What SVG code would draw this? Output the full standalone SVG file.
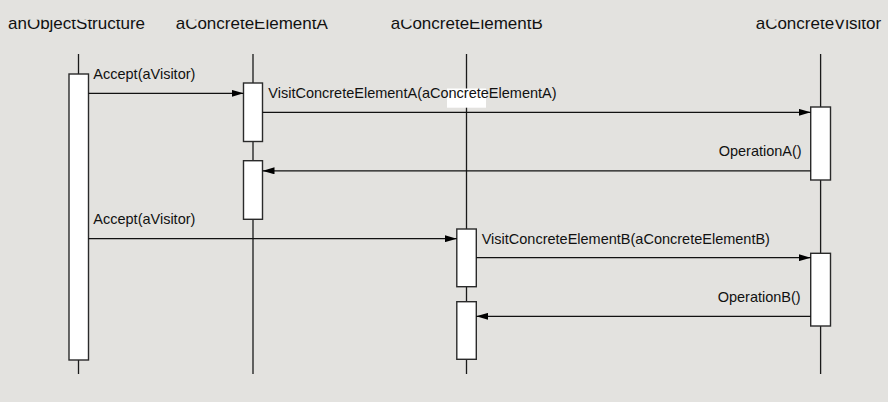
<svg xmlns="http://www.w3.org/2000/svg" width="888" height="402" viewBox="0 0 888 402">
<style>
.hdr{font-family:"Liberation Sans",Arial,sans-serif;font-size:17px;fill:#111}
.lbl{font-family:"Liberation Sans",Arial,sans-serif;font-size:14.5px;fill:#111}
.life{stroke:#1a1a1a;stroke-width:1.3;fill:none}
.act{fill:#fff;stroke:#2a2a2a;stroke-width:1.4}
.msg{stroke:#111;stroke-width:1.3;fill:none;marker-end:url(#ah)}
</style>
<defs>
<marker id="ah" viewBox="0 0 12 7" refX="12" refY="3.5" markerWidth="12" markerHeight="7" markerUnits="userSpaceOnUse" orient="auto">
<path d="M0,0 L12,3.5 L0,7 Z" fill="#000"/>
</marker>
<clipPath id="hclip"><rect x="0" y="19.8" width="888" height="400"/></clipPath>
</defs>
<rect x="0" y="0" width="888" height="402" fill="#e3e2df"/>
<g id="objectStructure">
<text class="hdr" x="8" y="28.6" clip-path="url(#hclip)">anObjectStructure</text>
<line class="life" x1="78.5" y1="54" x2="78.5" y2="374"/>
<rect class="act" x="69" y="74" width="19.5" height="286"/>
</g>
<g id="elementA">
<text class="hdr" x="175.7" y="28.6" clip-path="url(#hclip)">aConcreteElementA</text>
<line class="life" x1="253" y1="54" x2="253" y2="374"/>
<rect class="act" x="243.5" y="83" width="19" height="58.5"/>
<rect class="act" x="243.5" y="160.7" width="19" height="58.6"/>
</g>
<g id="elementB">
<text class="hdr" x="390.7" y="28.6" clip-path="url(#hclip)">aConcreteElementB</text>
<line class="life" x1="466.5" y1="54" x2="466.5" y2="374"/>
<rect class="act" x="456.8" y="229" width="19.5" height="57.7"/>
<rect class="act" x="456.8" y="301.7" width="19.5" height="57.6"/>
</g>
<g id="visitor">
<text class="hdr" x="755.7" y="28.6" clip-path="url(#hclip)">aConcreteVisitor</text>
<line class="life" x1="820.6" y1="54" x2="820.6" y2="374"/>
<rect class="act" x="810.7" y="107" width="19.8" height="73"/>
<rect class="act" x="810.7" y="253.3" width="19.8" height="72.7"/>
</g>
<g id="connectors">
<line class="msg" x1="88.5" y1="93.3" x2="243.5" y2="93.3"/>
<line class="msg" x1="262.5" y1="112.3" x2="810.7" y2="112.3"/>
<line class="msg" x1="810.7" y1="170.8" x2="262.5" y2="170.8"/>
<line class="msg" x1="88.5" y1="238.7" x2="456.8" y2="238.7"/>
<line class="msg" x1="476.3" y1="257.7" x2="810.7" y2="257.7"/>
<line class="msg" x1="810.7" y1="316.3" x2="476.3" y2="316.3"/>
</g>
<g id="labels">
<text class="lbl" x="93.3" y="79">Accept(aVisitor)</text>
<rect x="447" y="88.5" width="39" height="19.2" fill="#fff"/>
<text class="lbl" x="268.3" y="98">VisitConcreteElementA(aConcreteElementA)</text>
<text class="lbl" x="801.7" y="156" text-anchor="end">OperationA()</text>
<text class="lbl" x="93.3" y="224">Accept(aVisitor)</text>
<text class="lbl" x="481.7" y="244">VisitConcreteElementB(aConcreteElementB)</text>
<text class="lbl" x="800.7" y="302" text-anchor="end">OperationB()</text>
</g>
</svg>
